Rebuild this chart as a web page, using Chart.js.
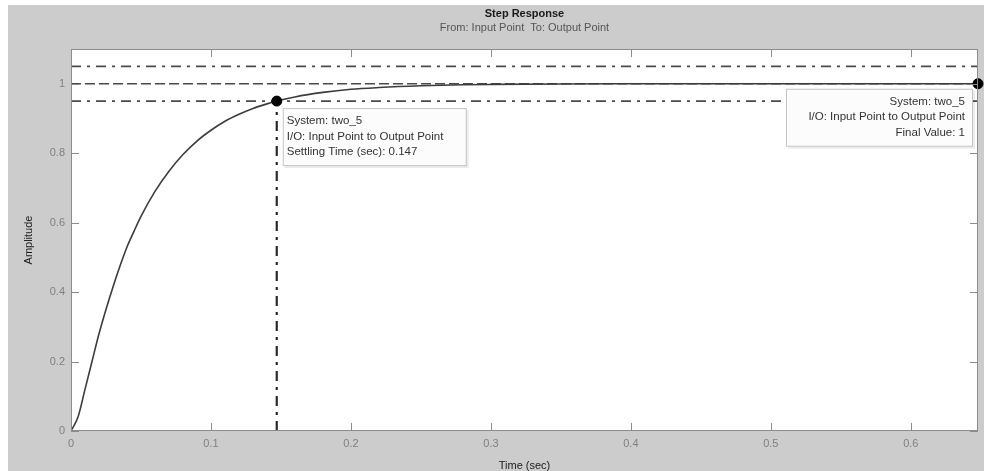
<!DOCTYPE html>
<html>
<head>
<meta charset="utf-8">
<script src="https://cdn.jsdelivr.net/npm/chart.js@4.4.0/dist/chart.umd.min.js"></script>
<style>
  html, body { margin: 0; padding: 0; background: #ffffff; }
  #wrap { width: 984px; height: 471px; position: relative; }
</style>
</head>
<body>
<div id="wrap"><canvas id="chart" width="984" height="471"></canvas></div>
<script>
// step response (time in sec, amplitude)
const tValues = [0, 0.005, 0.01, 0.015, 0.02, 0.025, 0.03, 0.035, 0.04, 0.045, 0.05, 0.06, 0.07, 0.08, 0.09, 0.1,
  0.11, 0.12, 0.13, 0.14, 0.147, 0.16, 0.18, 0.2, 0.22, 0.25, 0.28, 0.3, 0.35, 0.4, 0.5, 0.6, 0.648];
const yValues = [0, 0.04, 0.12, 0.2, 0.28, 0.35, 0.415, 0.475, 0.53, 0.575, 0.618, 0.69, 0.748, 0.796, 0.835, 0.866,
  0.892, 0.912, 0.929, 0.942, 0.95, 0.962, 0.975, 0.984, 0.989, 0.994, 0.997, 0.998, 0.9994, 0.9998, 1, 1, 1];

const xTickValues = [0, 0.1, 0.2, 0.3, 0.4, 0.5, 0.6];
const yTickValues = [0, 0.2, 0.4, 0.6, 0.8, 1];
const tEnd = 0.648;
const yTop = 1.1;

const settlingTime = 0.147;
const finalValue = 1;
const settleBand = [0.95, 1.05];

const settleText = ['System: two_5', 'I/O: Input Point to Output Point', 'Settling Time (sec): 0.147'];
const finalText = ['System: two_5', 'I/O: Input Point to Output Point', 'Final Value: 1'];

const FONT = '"Liberation Sans", Arial, sans-serif';

const curve = tValues.map((t, i) => ({ x: t, y: yValues[i] }));
const hLine = (y) => [{ x: 0, y: y }, { x: tEnd, y: y }];

// matlab style frame: grey figure, boxed axes, inward ticks, titles, data tips
const matlabFrame = {
  id: 'matlabFrame',
  beforeDraw(chart) {
    const { ctx, chartArea: a } = chart;
    ctx.save();
    ctx.fillStyle = '#ffffff';
    ctx.fillRect(0, 0, chart.width, chart.height);
    ctx.fillStyle = '#cccccc';
    ctx.fillRect(8, 5, chart.width - 8, chart.height - 5);
    ctx.fillStyle = '#ffffff';
    ctx.fillRect(a.left, a.top, a.right - a.left, a.bottom - a.top);

    ctx.fillStyle = '#1a1a1a';
    ctx.font = 'bold 11px ' + FONT;
    ctx.textAlign = 'center';
    ctx.textBaseline = 'middle';
    const cx = (a.left + a.right) / 2;
    ctx.fillText('Step Response', cx, 14);
    ctx.fillStyle = '#555555';
    ctx.font = '11px ' + FONT;
    ctx.fillText('From: Input Point  To: Output Point', cx, 28);
    ctx.restore();
  },
  afterDatasetsDraw(chart) {
    const { ctx, chartArea: a, scales } = chart;
    const xs = scales.x, ys = scales.y;
    ctx.save();
    // box
    ctx.strokeStyle = '#8c8c8c';
    ctx.lineWidth = 1;
    ctx.strokeRect(a.left + 0.5, a.top + 0.5, a.right - a.left - 1, a.bottom - a.top - 1);
    // inward ticks
    ctx.beginPath();
    xTickValues.forEach(v => {
      const px = Math.round(xs.getPixelForValue(v)) + 0.5;
      ctx.moveTo(px, a.bottom); ctx.lineTo(px, a.bottom - 8);
      ctx.moveTo(px, a.top); ctx.lineTo(px, a.top + 8);
    });
    yTickValues.forEach(v => {
      const py = Math.round(ys.getPixelForValue(v)) + 0.5;
      ctx.moveTo(a.left, py); ctx.lineTo(a.left + 8, py);
      ctx.moveTo(a.right, py); ctx.lineTo(a.right - 8, py);
    });
    ctx.stroke();

    // data tips
    const tip = (lines, x, y, w, h, align) => {
      ctx.fillStyle = 'rgba(0,0,0,0.08)';
      ctx.fillRect(x + 2, y + 2, w, h);
      ctx.fillStyle = '#fcfcfc';
      ctx.fillRect(x, y, w, h);
      ctx.strokeStyle = '#c4c4c4';
      ctx.strokeRect(x + 0.5, y + 0.5, w - 1, h - 1);
      ctx.fillStyle = '#333333';
      ctx.font = '11.5px ' + FONT;
      ctx.textBaseline = 'middle';
      ctx.textAlign = align;
      const tx = align === 'left' ? x + 4 : x + w - 8;
      lines.forEach((s, i) => ctx.fillText(s, tx, y + 13 + i * 15.5));
    };
    const sx = xs.getPixelForValue(settlingTime);
    const sy = ys.getPixelForValue(settleBand[0]);
    tip(settleText, sx + 6, sy + 7, 184, 58, 'left');
    const fx = xs.getPixelForValue(tEnd);
    const fy = ys.getPixelForValue(finalValue);
    tip(finalText, fx - 192, fy + 5, 187, 58, 'right');
    ctx.restore();
  }
};

const dashDot = [10, 6, 3, 6];

new Chart(document.getElementById('chart'), {
  type: 'line',
  data: {
    datasets: [
      {
        label: 'two_5',
        data: curve,
        borderColor: '#3c3c3c',
        borderWidth: 1.6,
        pointRadius: 0,
        cubicInterpolationMode: 'monotone',
        order: 1
      },
      { label: 'upper', data: hLine(settleBand[1]), borderColor: '#4a4a4a', borderWidth: 1.6, borderDash: dashDot, pointRadius: 0, order: 5 },
      { label: 'final', data: hLine(finalValue), borderColor: '#4a4a4a', borderWidth: 1.6, borderDash: [10, 4], pointRadius: 0, order: 5 },
      { label: 'lower', data: hLine(settleBand[0]), borderColor: '#4a4a4a', borderWidth: 1.6, borderDash: dashDot, pointRadius: 0, order: 5 },
      {
        label: 'settle',
        data: [{ x: settlingTime, y: 0 }, { x: settlingTime, y: settleBand[0] }],
        borderColor: '#2a2a2a', borderWidth: 2.2, borderDash: dashDot, pointRadius: 0, order: 4
      },
      {
        label: 'tips',
        type: 'scatter',
        data: [{ x: settlingTime, y: settleBand[0] }, { x: tEnd, y: finalValue }],
        pointRadius: 5,
        pointBackgroundColor: '#000000',
        pointBorderColor: '#000000',
        clip: false,
        order: 0
      }
    ]
  },
  options: {
    responsive: false,
    animation: false,
    events: [],
    layout: { padding: { left: 0, right: 6, top: 49, bottom: 0 } },
    plugins: { legend: { display: false }, tooltip: { enabled: false }, title: { display: false } },
    scales: {
      x: {
        type: 'linear',
        min: 0,
        max: tEnd,
        grid: { display: false, drawTicks: false },
        border: { display: false },
        afterBuildTicks: (s) => { s.ticks = xTickValues.map(v => ({ value: v })); },
        afterFit: (s) => { s.height = 40; },
        ticks: {
          padding: 6,
          color: '#808080',
          font: { family: FONT, size: 11 },
          maxRotation: 0,
          autoSkip: false,
          callback: (v) => String(v)
        },
        title: {
          display: true,
          text: 'Time (sec)',
          color: '#1a1a1a',
          font: { family: FONT, size: 11, lineHeight: 1 },
          padding: { top: 0, bottom: 0 }
        }
      },
      y: {
        min: 0,
        max: yTop,
        grid: { display: false, drawTicks: false },
        border: { display: false },
        afterBuildTicks: (s) => { s.ticks = yTickValues.map(v => ({ value: v })); },
        afterFit: (s) => { s.width = 71; },
        ticks: {
          padding: 6,
          color: '#808080',
          font: { family: FONT, size: 11 },
          autoSkip: false,
          callback: (v) => String(v)
        },
        title: {
          display: true,
          text: 'Amplitude',
          color: '#1a1a1a',
          font: { family: FONT, size: 11, lineHeight: 1 },
          padding: { top: 23.5, bottom: 0 }
        }
      }
    }
  },
  plugins: [matlabFrame]
});
</script>
</body>
</html>
